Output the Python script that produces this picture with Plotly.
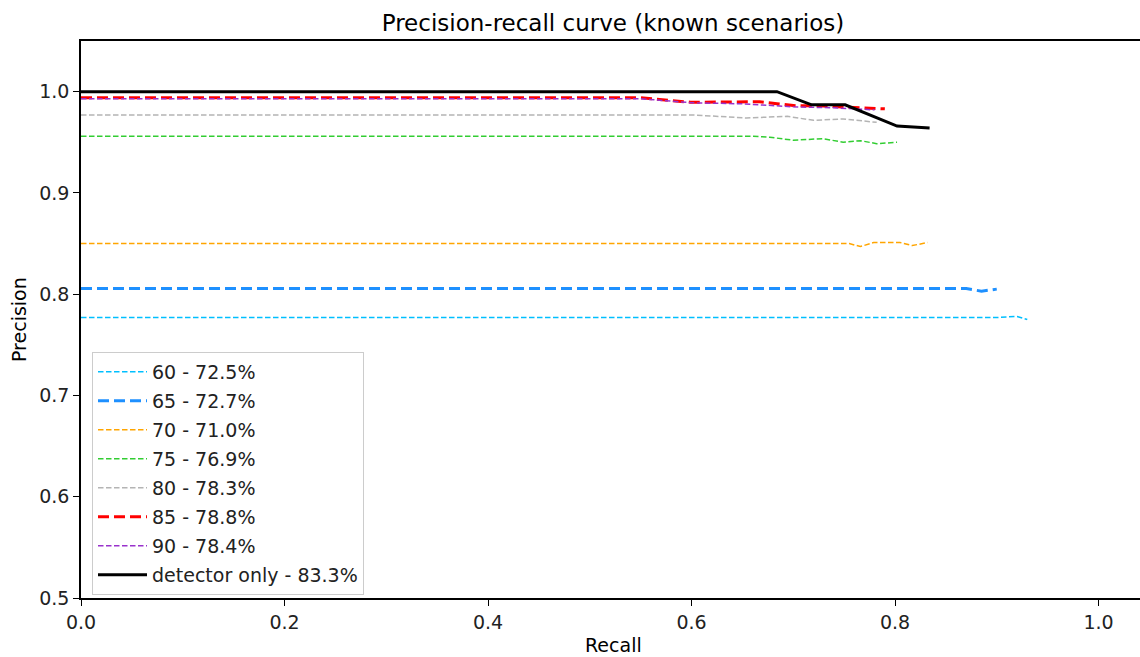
import plotly.graph_objects as go

# ---- data ----
names = ["60 - 72.5%", "65 - 72.7%", "70 - 71.0%", "75 - 76.9%",
         "80 - 78.3%", "85 - 78.8%", "90 - 78.4%", "detector only - 83.3%"]

recall_60 = [0.0, 0.90, 0.92, 0.930]
prec_60 = [0.777, 0.777, 0.778, 0.775]

recall_65 = [0.0, 0.870, 0.885, 0.900]
prec_65 = [0.8055, 0.8055, 0.803, 0.805]

recall_70 = [0.0, 0.755, 0.766, 0.779, 0.805, 0.817, 0.832]
prec_70 = [0.850, 0.850, 0.847, 0.851, 0.851, 0.848, 0.851]

recall_75 = [0.0, 0.660, 0.677, 0.700, 0.729, 0.749, 0.766, 0.782, 0.802]
prec_75 = [0.956, 0.956, 0.955, 0.952, 0.9536, 0.950, 0.9516, 0.9486, 0.950]

recall_80 = [0.0, 0.600, 0.654, 0.694, 0.720, 0.749, 0.782]
prec_80 = [0.977, 0.977, 0.974, 0.9756, 0.9717, 0.973, 0.9697]

recall_85 = [0.0, 0.550, 0.599, 0.640, 0.667, 0.684, 0.704, 0.726, 0.785, 0.790]
prec_85 = [0.994, 0.994, 0.9895, 0.9895, 0.990, 0.988, 0.986, 0.986, 0.983, 0.983]

recall_90 = [0.0, 0.550, 0.600, 0.650, 0.700, 0.740, 0.780]
prec_90 = [0.993, 0.993, 0.989, 0.988, 0.985, 0.984, 0.982]

recall_det = [0.0, 0.684, 0.718, 0.751, 0.802, 0.834]
prec_det = [1.0, 1.0, 0.987, 0.987, 0.966, 0.964]

x_ticks = [0.0, 0.2, 0.4, 0.6, 0.8, 1.0]
y_ticks = [0.5, 0.6, 0.7, 0.8, 0.9, 1.0]

# ---- styles ----
thin = dict(width=1.5, dash="5.5px,2.5px")
thick = dict(width=3, dash="11px,5px")
series = [
    (recall_60, prec_60, "#00BFFF", thin),
    (recall_65, prec_65, "#1E90FF", thick),
    (recall_70, prec_70, "#FFA500", thin),
    (recall_75, prec_75, "#32CD32", thin),
    (recall_80, prec_80, "#B4B4B4", thin),
    (recall_85, prec_85, "#FF0000", thick),
    (recall_90, prec_90, "#9932CC", thin),
    (recall_det, prec_det, "#000000", dict(width=3, dash="solid")),
]

fig = go.Figure()
for i, ((xs, ys, col, st), nm) in enumerate(zip(series, names)):
    fig.add_trace(go.Scatter(x=xs, y=ys, mode="lines", name=nm,
                             legendgroup=f"g{i}",
                             line=dict(color=col, **st)))

W, H = 1140, 657
ml, mt, mb = 81, 41, 59
pw = W - ml
ph = H - mt - mb

font = "DejaVu Sans, sans-serif"
fig.update_layout(
    width=W, height=H,
    margin=dict(l=ml, r=0, t=mt, b=mb, pad=0),
    paper_bgcolor="white", plot_bgcolor="white",
    font=dict(family=font, size=19, color="black"),
    showlegend=True,
    legend=dict(x=(92 - ml) / pw, y=3 / ph, xanchor="left", yanchor="bottom",
                bgcolor="rgba(255,255,255,0.8)", bordercolor="#cccccc", borderwidth=1,
                font=dict(family=font, size=19, color="#222222"),
                traceorder="grouped", tracegroupgap=1.3, itemwidth=49),
    title=dict(text="Precision-recall curve (known scenarios)",
               x=(613 - ml) / pw, xref="paper", xanchor="center",
               y=1 - 23 / H, yref="container", yanchor="middle",
               font=dict(family=font, size=23, color="black")),
    xaxis=dict(range=[0, (W - ml) / 1017.5], tickvals=x_ticks,
               ticktext=[f"{v:.1f}" for v in x_ticks],
               showgrid=False, zeroline=False, showline=True, linecolor="black",
               linewidth=1.5, mirror=True, ticks="outside", ticklen=6, tickwidth=1.2,
               tickcolor="black", tickfont=dict(size=19, color="#222222")),
    yaxis=dict(range=[0.5, 1.05], tickvals=y_ticks,
               ticktext=[f"{v:.1f}" for v in y_ticks],
               showgrid=False, zeroline=False, showline=True, linecolor="black",
               linewidth=1.5, mirror=False, ticks="outside", ticklen=6, tickwidth=1.2,
               tickcolor="black", tickfont=dict(size=19, color="#222222")),
    annotations=[
        dict(text="Recall", xref="paper", yref="paper", x=(613 - ml) / pw,
             y=-(645 - (H - mb)) / ph, xanchor="center", yanchor="middle",
             showarrow=False, font=dict(family=font, size=19, color="black")),
        dict(text="Precision", xref="paper", yref="paper", x=-(ml - 19) / pw,
             y=((H - mb) - 320) / ph, xanchor="center", yanchor="middle",
             textangle=-90, showarrow=False,
             font=dict(family=font, size=19, color="black")),
    ],
)

fig.write_html("out.html")
